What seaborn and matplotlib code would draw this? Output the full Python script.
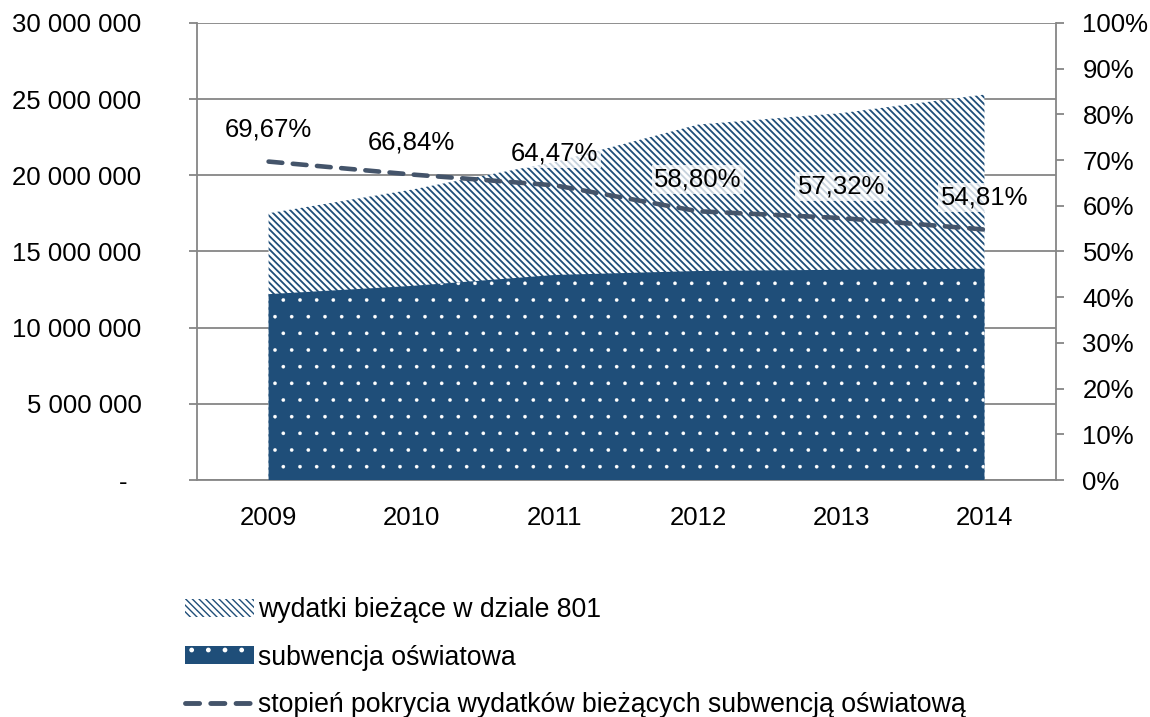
import numpy as np
import matplotlib
matplotlib.use("Agg")
import matplotlib.pyplot as plt
import seaborn as sns
from matplotlib.patches import Patch
from matplotlib.lines import Line2D

lata = ["2009", "2010", "2011", "2012", "2013", "2014"]
wydatki = [17510000, 19060000, 20880000, 23330000, 24080000, 25300000]
subwencja = [12200000, 12740000, 13460000, 13720000, 13800000, 13870000]
pokrycie = [69.67, 66.84, 64.47, 58.80, 57.32, 54.81]

GRANAT = "#1F4E79"
LINIA = "#44546A"
SZARY = "#868686"
FS = 18.5

sns.set_style("white")
plt.rcParams["font.family"] = ["Liberation Sans", "DejaVu Sans"]
plt.rcParams["text.color"] = "black"
plt.rcParams["xtick.color"] = "black"
plt.rcParams["ytick.color"] = "black"

fig = plt.figure(figsize=(11.5, 7.17), dpi=100)
ax = fig.add_axes([0.1713, 0.3305, 0.747, 0.6375])
x = np.arange(len(lata))

with plt.rc_context({"hatch.linewidth": 1.3}):
    ax.fill_between(x, 0, wydatki, facecolor="white", edgecolor=GRANAT,
                    hatch="\\\\\\\\\\", linewidth=0, zorder=2)
    h_wyd = Patch(facecolor="white", edgecolor=GRANAT, hatch="\\\\\\\\\\", linewidth=0)
with plt.rc_context({"hatch.linewidth": 0.2}):
    ax.fill_between(x, 0, subwencja, facecolor=GRANAT, edgecolor="white",
                    hatch=".", linewidth=0, zorder=3)
    h_sub = Patch(facecolor=GRANAT, edgecolor="white", hatch=".", linewidth=0)

ax.set_xlim(-0.5, len(lata) - 0.5)
ax.set_ylim(0, 30000000)
ax.set_yticks(np.arange(0, 30000001, 5000000))
ax.set_yticklabels(["-  " if v == 0 else f"{v:,}".replace(",", " ")
                    for v in np.arange(0, 30000001, 5000000)])
ax.set_xticks(x)
ax.set_xticklabels(lata)
ax.set_xticks(np.arange(-0.5, len(lata)), minor=True)
ax.tick_params(axis="x", which="major", length=0, pad=19, labelsize=FS)
ax.tick_params(axis="x", which="minor", length=6, color=SZARY, width=1.3, direction="out")
ax.tick_params(axis="y", length=6, color=SZARY, width=1.3, pad=34, labelsize=FS)
ax.yaxis.grid(True, color=SZARY, linewidth=1.3)
ax.set_axisbelow(True)
for s in ["top", "right"]:
    ax.spines[s].set_visible(False)
for s in ["left", "bottom"]:
    ax.spines[s].set_color(SZARY)
    ax.spines[s].set_linewidth(1.3)

ax2 = ax.twinx()
sns.lineplot(x=x, y=pokrycie, ax=ax2, color=LINIA, linewidth=3.3,
             linestyle=(0, (3.0, 2.3)), dash_capstyle="round", zorder=5)
ax2.set_ylim(0, 100)
ax2.set_yticks(np.arange(0, 101, 10))
ax2.set_yticklabels([f"{v}%" for v in range(0, 101, 10)])
ax2.tick_params(axis="y", length=6, color=SZARY, width=1.3, pad=13, labelsize=FS)
for s in ["top", "left", "bottom"]:
    ax2.spines[s].set_visible(False)
ax2.spines["right"].set_color(SZARY)
ax2.spines["right"].set_linewidth(1.3)

for xi, p in zip(x, pokrycie):
    ax2.annotate(f"{p:.2f}%".replace(".", ","), (xi, p), xytext=(0, 23),
                 textcoords="offset points", ha="center", va="center",
                 fontsize=FS, zorder=6,
                 bbox=dict(boxstyle="square,pad=0.1", facecolor="white",
                           edgecolor="none", alpha=0.75))

uchwyty = [
    h_wyd,
    h_sub,
    Line2D([], [], color=LINIA, linewidth=3.5, linestyle=(0, (2.9, 2.3)),
           dash_capstyle="round"),
]
etykiety = ["wydatki bieżące w dziale 801", "subwencja oświatowa",
            "stopień pokrycia wydatków bieżących subwencją oświatową"]
fig.legend(uchwyty, etykiety, loc="upper left", bbox_to_anchor=(0.161, 0.167),
           frameon=False, fontsize=19.2, handlelength=2.6, handleheight=0.65,
           handletextpad=0.12, labelspacing=0.8, borderaxespad=0,
           borderpad=0)

fig.savefig("out.png", dpi=100)
